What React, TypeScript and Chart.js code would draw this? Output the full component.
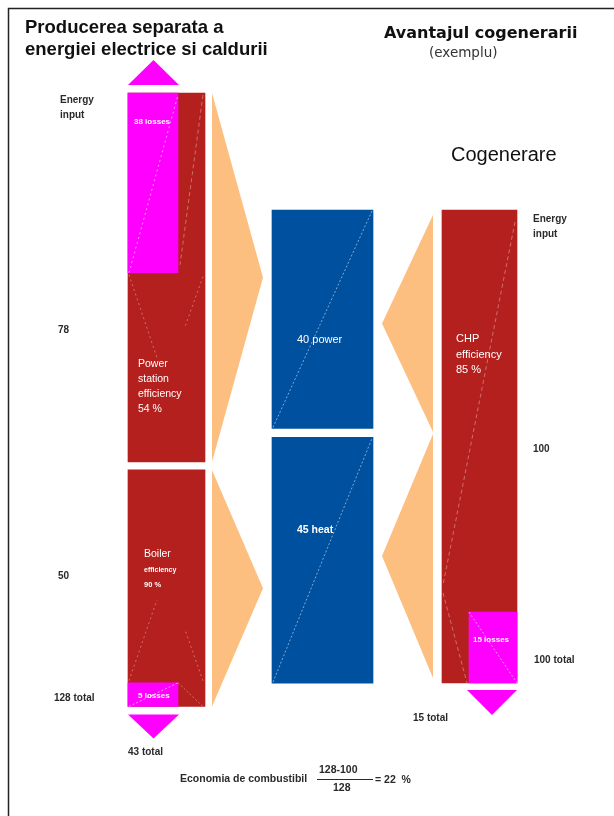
import { useEffect, useRef } from 'react';
import { Chart, registerables } from 'chart.js';

Chart.register(...registerables);

// Separate production: power station + boiler (fuel units)
const SEPARATE_INPUT = [78, 50];
const SEPARATE_EFFICIENCY = [54, 90];
const SEPARATE_LOSSES = [38, 5];
// Useful energy delivered in both cases
const USEFUL_LABELS = ['power', 'heat'];
const USEFUL_OUTPUT = [40, 45];
// Cogeneration (CHP)
const CHP_INPUT = [100];
const CHP_EFFICIENCY = [85];
const CHP_LOSSES = [15];

// ---- layout ----
const W = 614;
const H = 816;
const IN_PX = 4.73; // pixels per fuel unit (inputs and losses)
const OUT_PX = 5.46; // pixels per unit of useful output
const SEP_X = [128, 205];
const OUT_X = [272, 373];
const CHP_X = [442, 517];
const SEP_TOP = 93;
const SEP_GAP = 8;
const CHP_TOP = 210;
const OUT_TOP = 210;
const OUT_GAP = 9;
const SEP_LOSS_W = 50;
const CHP_LOSS_W = 48;

const RED = '#B4201E';
const BLUE = '#0050A0';
const MAGENTA = '#FF00FF';
const PEACH = '#FDBF80';
const SANS = '"Liberation Sans", Arial, sans-serif';
const VERDANA = '"DejaVu Sans", Verdana, sans-serif';

const bar = (x0: number, x1: number, from: number, to: number, color: string, axis: string, order: number) => ({
  data: [{ x: (x0 + x1) / 2, y: [from, to] }],
  barThickness: x1 - x0,
  backgroundColor: color,
  borderWidth: 0,
  grouped: false,
  yAxisID: axis,
  order,
});

const sepStart = SEP_TOP / IN_PX;
const boilerStart = sepStart + SEPARATE_INPUT[0] + SEP_GAP / IN_PX;
const boilerEnd = boilerStart + SEPARATE_INPUT[1];
const chpStart = CHP_TOP / IN_PX;
const chpEnd = chpStart + CHP_INPUT[0];
const outStart = OUT_TOP / OUT_PX;
const heatStart = outStart + USEFUL_OUTPUT[0] + OUT_GAP / OUT_PX;

const datasets = [
  bar(SEP_X[0], SEP_X[1], sepStart, sepStart + SEPARATE_INPUT[0], RED, 'y', 2),
  bar(SEP_X[0], SEP_X[1], boilerStart, boilerEnd, RED, 'y', 2),
  bar(CHP_X[0], CHP_X[1], chpStart, chpEnd, RED, 'y', 2),
  bar(OUT_X[0], OUT_X[1], outStart, outStart + USEFUL_OUTPUT[0], BLUE, 'yOut', 2),
  bar(OUT_X[0], OUT_X[1], heatStart, heatStart + USEFUL_OUTPUT[1], BLUE, 'yOut', 2),
  bar(SEP_X[0], SEP_X[0] + SEP_LOSS_W, sepStart, sepStart + SEPARATE_LOSSES[0], MAGENTA, 'y', 1),
  bar(SEP_X[0], SEP_X[0] + SEP_LOSS_W, boilerEnd - SEPARATE_LOSSES[1], boilerEnd, MAGENTA, 'y', 1),
  bar(CHP_X[1] - CHP_LOSS_W, CHP_X[1], chpEnd - CHP_LOSSES[0], chpEnd, MAGENTA, 'y', 1),
];

type Box = { l: number; r: number; t: number; b: number };

const box = (chart: any, i: number): Box => {
  const el: any = chart.getDatasetMeta(i).data[0];
  const p = el.getProps(['x', 'y', 'base', 'width'], true);
  return { l: p.x - p.width / 2, r: p.x + p.width / 2, t: Math.min(p.y, p.base), b: Math.max(p.y, p.base) };
};

const poly = (ctx: CanvasRenderingContext2D, pts: number[][], color: string) => {
  ctx.beginPath();
  ctx.moveTo(pts[0][0], pts[0][1]);
  for (let i = 1; i < pts.length; i++) ctx.lineTo(pts[i][0], pts[i][1]);
  ctx.closePath();
  ctx.fillStyle = color;
  ctx.fill();
};

const dash = (ctx: CanvasRenderingContext2D, a: number[], b: number[], color: string, pattern: number[]) => {
  ctx.save();
  ctx.beginPath();
  ctx.setLineDash(pattern);
  ctx.strokeStyle = color;
  ctx.lineWidth = 1;
  ctx.moveTo(a[0], a[1]);
  ctx.lineTo(b[0], b[1]);
  ctx.stroke();
  ctx.restore();
};

const text = (ctx: CanvasRenderingContext2D, s: string, x: number, y: number, font: string, color: string) => {
  ctx.font = font;
  ctx.fillStyle = color;
  ctx.fillText(s, x, y);
};

const diagram = {
  id: 'cogenDiagram',
  beforeDatasetsDraw(chart: any) {
    const ctx: CanvasRenderingContext2D = chart.ctx;
    const ps = box(chart, 0);
    const bo = box(chart, 1);
    const chp = box(chart, 2);
    const pw = box(chart, 3);
    const ht = box(chart, 4);
    ctx.save();
    // frame
    ctx.strokeStyle = '#222';
    ctx.lineWidth = 1.5;
    ctx.beginPath();
    ctx.moveTo(8.5, H);
    ctx.lineTo(8.5, 8.5);
    ctx.lineTo(W, 8.5);
    ctx.stroke();

    // flow chevrons: separate production -> useful energy
    const lx = ps.r + 7;
    const ltip = ps.r + 58;
    poly(ctx, [[lx, ps.t], [ltip, (ps.t + ps.b) / 2], [lx, ps.b]], PEACH);
    poly(ctx, [[lx, bo.t], [ltip, (bo.t + bo.b) / 2], [lx, bo.b]], PEACH);
    // CHP -> useful energy
    const rx = chp.l - 9;
    const rtip = pw.r + 9;
    const mid = (pw.b + ht.t) / 2;
    poly(ctx, [[rx, pw.t + 5], [rtip, (pw.t + 5 + mid - 1) / 2], [rx, mid - 1]], PEACH);
    poly(ctx, [[rx, mid + 1], [rtip, (mid + 1 + ht.b - 5) / 2], [rx, ht.b - 5]], PEACH);

    // input / loss arrows
    const aw = 51;
    poly(ctx, [[ps.l, ps.t - 8], [ps.l + aw, ps.t - 8], [ps.l + aw / 2, ps.t - 33]], MAGENTA);
    poly(ctx, [[bo.l, bo.b + 8], [bo.l + aw, bo.b + 8], [bo.l + aw / 2, bo.b + 32]], MAGENTA);
    poly(ctx, [[chp.r - 50, chp.b + 7], [chp.r, chp.b + 7], [chp.r - 25, chp.b + 32]], MAGENTA);
    ctx.restore();
  },
  afterDatasetsDraw(chart: any) {
    const ctx: CanvasRenderingContext2D = chart.ctx;
    const ps = box(chart, 0);
    const bo = box(chart, 1);
    const chp = box(chart, 2);
    const pw = box(chart, 3);
    const ht = box(chart, 4);
    const l1 = box(chart, 5);
    const l2 = box(chart, 6);
    const l3 = box(chart, 7);
    ctx.save();

    const soft = 'rgba(255,255,255,0.6)';
    const faint = 'rgba(255,255,255,0.35)';
    // power station funnel
    dash(ctx, [l1.l + 1, l1.b], [l1.r, l1.t + 2], soft, [2, 3]);
    dash(ctx, [ps.r - 2, ps.t + 2], [l1.r + 2, l1.b - 8], faint, [4, 3]);
    dash(ctx, [ps.l + 1, l1.b + 2], [ps.l + 29, l1.b + 85], faint, [2, 3]);
    dash(ctx, [ps.r - 2, l1.b + 4], [ps.r - 20, l1.b + 54], faint, [2, 3]);
    // boiler funnel
    dash(ctx, [bo.l + 1, l2.t - 2], [bo.l + 29, l2.t - 83], faint, [2, 3]);
    dash(ctx, [bo.r - 2, l2.t - 2], [bo.r - 20, l2.t - 53], faint, [2, 3]);
    dash(ctx, [l2.l + 1, l2.b], [l2.r, l2.t], soft, [2, 2]);
    dash(ctx, [l2.r, l2.t], [bo.r - 2, bo.b], faint, [2, 2]);
    // useful energy
    dash(ctx, [pw.l + 1, pw.b - 1], [pw.r - 1, pw.t + 1], 'rgba(255,255,255,0.5)', [2, 2]);
    dash(ctx, [ht.l + 1, ht.b - 1], [ht.r - 1, ht.t + 1], 'rgba(255,255,255,0.5)', [2, 2]);
    // CHP
    dash(ctx, [chp.r - 2, chp.t + 12], [chp.l + 1, chp.b - 98], faint, [4, 3]);
    dash(ctx, [chp.l + 1, chp.b - 90], [l3.l - 2, chp.b], faint, [4, 3]);
    dash(ctx, [l3.l, l3.t], [l3.r, l3.b], soft, [2, 2]);

    ctx.textAlign = 'left';
    ctx.textBaseline = 'alphabetic';

    // titles
    text(ctx, 'Producerea separata a', 25, 32.5, `bold 18.5px ${SANS}`, '#111');
    text(ctx, 'energiei electrice si caldurii', 25, 54.5, `bold 18.5px ${SANS}`, '#111');
    text(ctx, 'Avantajul cogenerarii', 384, 38, `bold 16px ${VERDANA}`, '#111');
    text(ctx, '(exemplu)', 429, 57, `13.5px ${VERDANA}`, '#333');
    text(ctx, 'Cogenerare', 451, 161, `20px ${SANS}`, '#111');

    // side labels
    const lab = `bold 10px ${SANS}`;
    const dark = '#2a2a2a';
    const sepTotal = SEPARATE_INPUT[0] + SEPARATE_INPUT[1];
    const sepLoss = SEPARATE_LOSSES[0] + SEPARATE_LOSSES[1];
    text(ctx, 'Energy', 60, 103, lab, dark);
    text(ctx, 'input', 60, 118, lab, dark);
    text(ctx, `${SEPARATE_INPUT[0]}`, 58, 333, lab, dark);
    text(ctx, `${SEPARATE_INPUT[1]}`, 58, 579, lab, dark);
    text(ctx, `${sepTotal} total`, 54, 701, lab, dark);
    text(ctx, `${sepLoss} total`, 128, 755, lab, dark);
    text(ctx, 'Energy', 533, 222, lab, dark);
    text(ctx, 'input', 533, 237, lab, dark);
    text(ctx, `${CHP_INPUT[0]}`, 533, 452, lab, dark);
    text(ctx, `${CHP_INPUT[0]} total`, 534, 663, lab, dark);
    text(ctx, `${CHP_LOSSES[0]} total`, 413, 721, lab, dark);

    // white labels inside the blocks
    const w = '#fff';
    const small = `bold 8px ${SANS}`;
    const mid = `10.5px ${SANS}`;
    text(ctx, `${SEPARATE_LOSSES[0]} losses`, l1.l + 6, l1.t + 31, small, w);
    text(ctx, 'Power', ps.l + 10, 367, mid, w);
    text(ctx, 'station', ps.l + 10, 382, mid, w);
    text(ctx, 'efficiency', ps.l + 10, 397, mid, w);
    text(ctx, `${SEPARATE_EFFICIENCY[0]} %`, ps.l + 10, 412, mid, w);
    text(ctx, 'Boiler', bo.l + 16, 557, mid, w);
    text(ctx, 'efficiency', bo.l + 16, 572, `bold 7px ${SANS}`, w);
    text(ctx, `${SEPARATE_EFFICIENCY[1]} %`, bo.l + 16, 587, `bold 7.5px ${SANS}`, w);
    text(ctx, `${SEPARATE_LOSSES[1]} losses`, l2.l + 10, l2.b - 8, small, w);
    text(ctx, `${USEFUL_OUTPUT[0]} ${USEFUL_LABELS[0]}`, pw.l + 25, 343, `11px ${SANS}`, w);
    text(ctx, `${USEFUL_OUTPUT[1]} ${USEFUL_LABELS[1]}`, ht.l + 25, 533, `bold 10.5px ${SANS}`, w);
    text(ctx, 'CHP', chp.l + 14, 342, `11px ${SANS}`, w);
    text(ctx, 'efficiency', chp.l + 14, 358, `11px ${SANS}`, w);
    text(ctx, `${CHP_EFFICIENCY[0]} %`, chp.l + 14, 373, `11px ${SANS}`, w);
    text(ctx, `${CHP_LOSSES[0]} losses`, l3.l + 4, 642, small, w);

    // fuel saving
    const saving = Math.round(((sepTotal - CHP_INPUT[0]) / sepTotal) * 100);
    const f = `bold 10.5px ${SANS}`;
    text(ctx, 'Economia de combustibil', 180, 782, f, dark);
    text(ctx, `${sepTotal}-${CHP_INPUT[0]}`, 319, 773, f, dark);
    text(ctx, `${sepTotal}`, 333, 791, f, dark);
    text(ctx, `= ${saving}  %`, 375, 783, f, dark);
    ctx.strokeStyle = dark;
    ctx.lineWidth = 1.2;
    ctx.beginPath();
    ctx.moveTo(317, 779.5);
    ctx.lineTo(373, 779.5);
    ctx.stroke();
    ctx.restore();
  },
};

export default function App() {
  const ref = useRef<HTMLCanvasElement>(null);
  useEffect(() => {
    const chart = new Chart(ref.current as HTMLCanvasElement, {
      type: 'bar',
      data: { datasets: datasets as any },
      options: {
        animation: false,
        responsive: false,
        devicePixelRatio: 1,
        layout: { padding: 0 },
        plugins: { legend: { display: false }, tooltip: { enabled: false }, title: { display: false } },
        scales: {
          x: { type: 'linear', min: 0, max: W, display: false, offset: false, bounds: 'data' },
          y: { type: 'linear', min: 0, max: H / IN_PX, reverse: true, display: false, stacked: false, bounds: 'data' },
          yOut: { type: 'linear', min: 0, max: H / OUT_PX, reverse: true, display: false, stacked: false, bounds: 'data' },
        },
      } as any,
      plugins: [diagram],
    });
    return () => chart.destroy();
  }, []);
  return (
    <div style={{ position: 'absolute', left: 0, top: 0, width: W, height: H, background: '#fff' }}>
      <canvas ref={ref} width={W} height={H} style={{ display: 'block', width: W, height: H }} />
    </div>
  );
}
